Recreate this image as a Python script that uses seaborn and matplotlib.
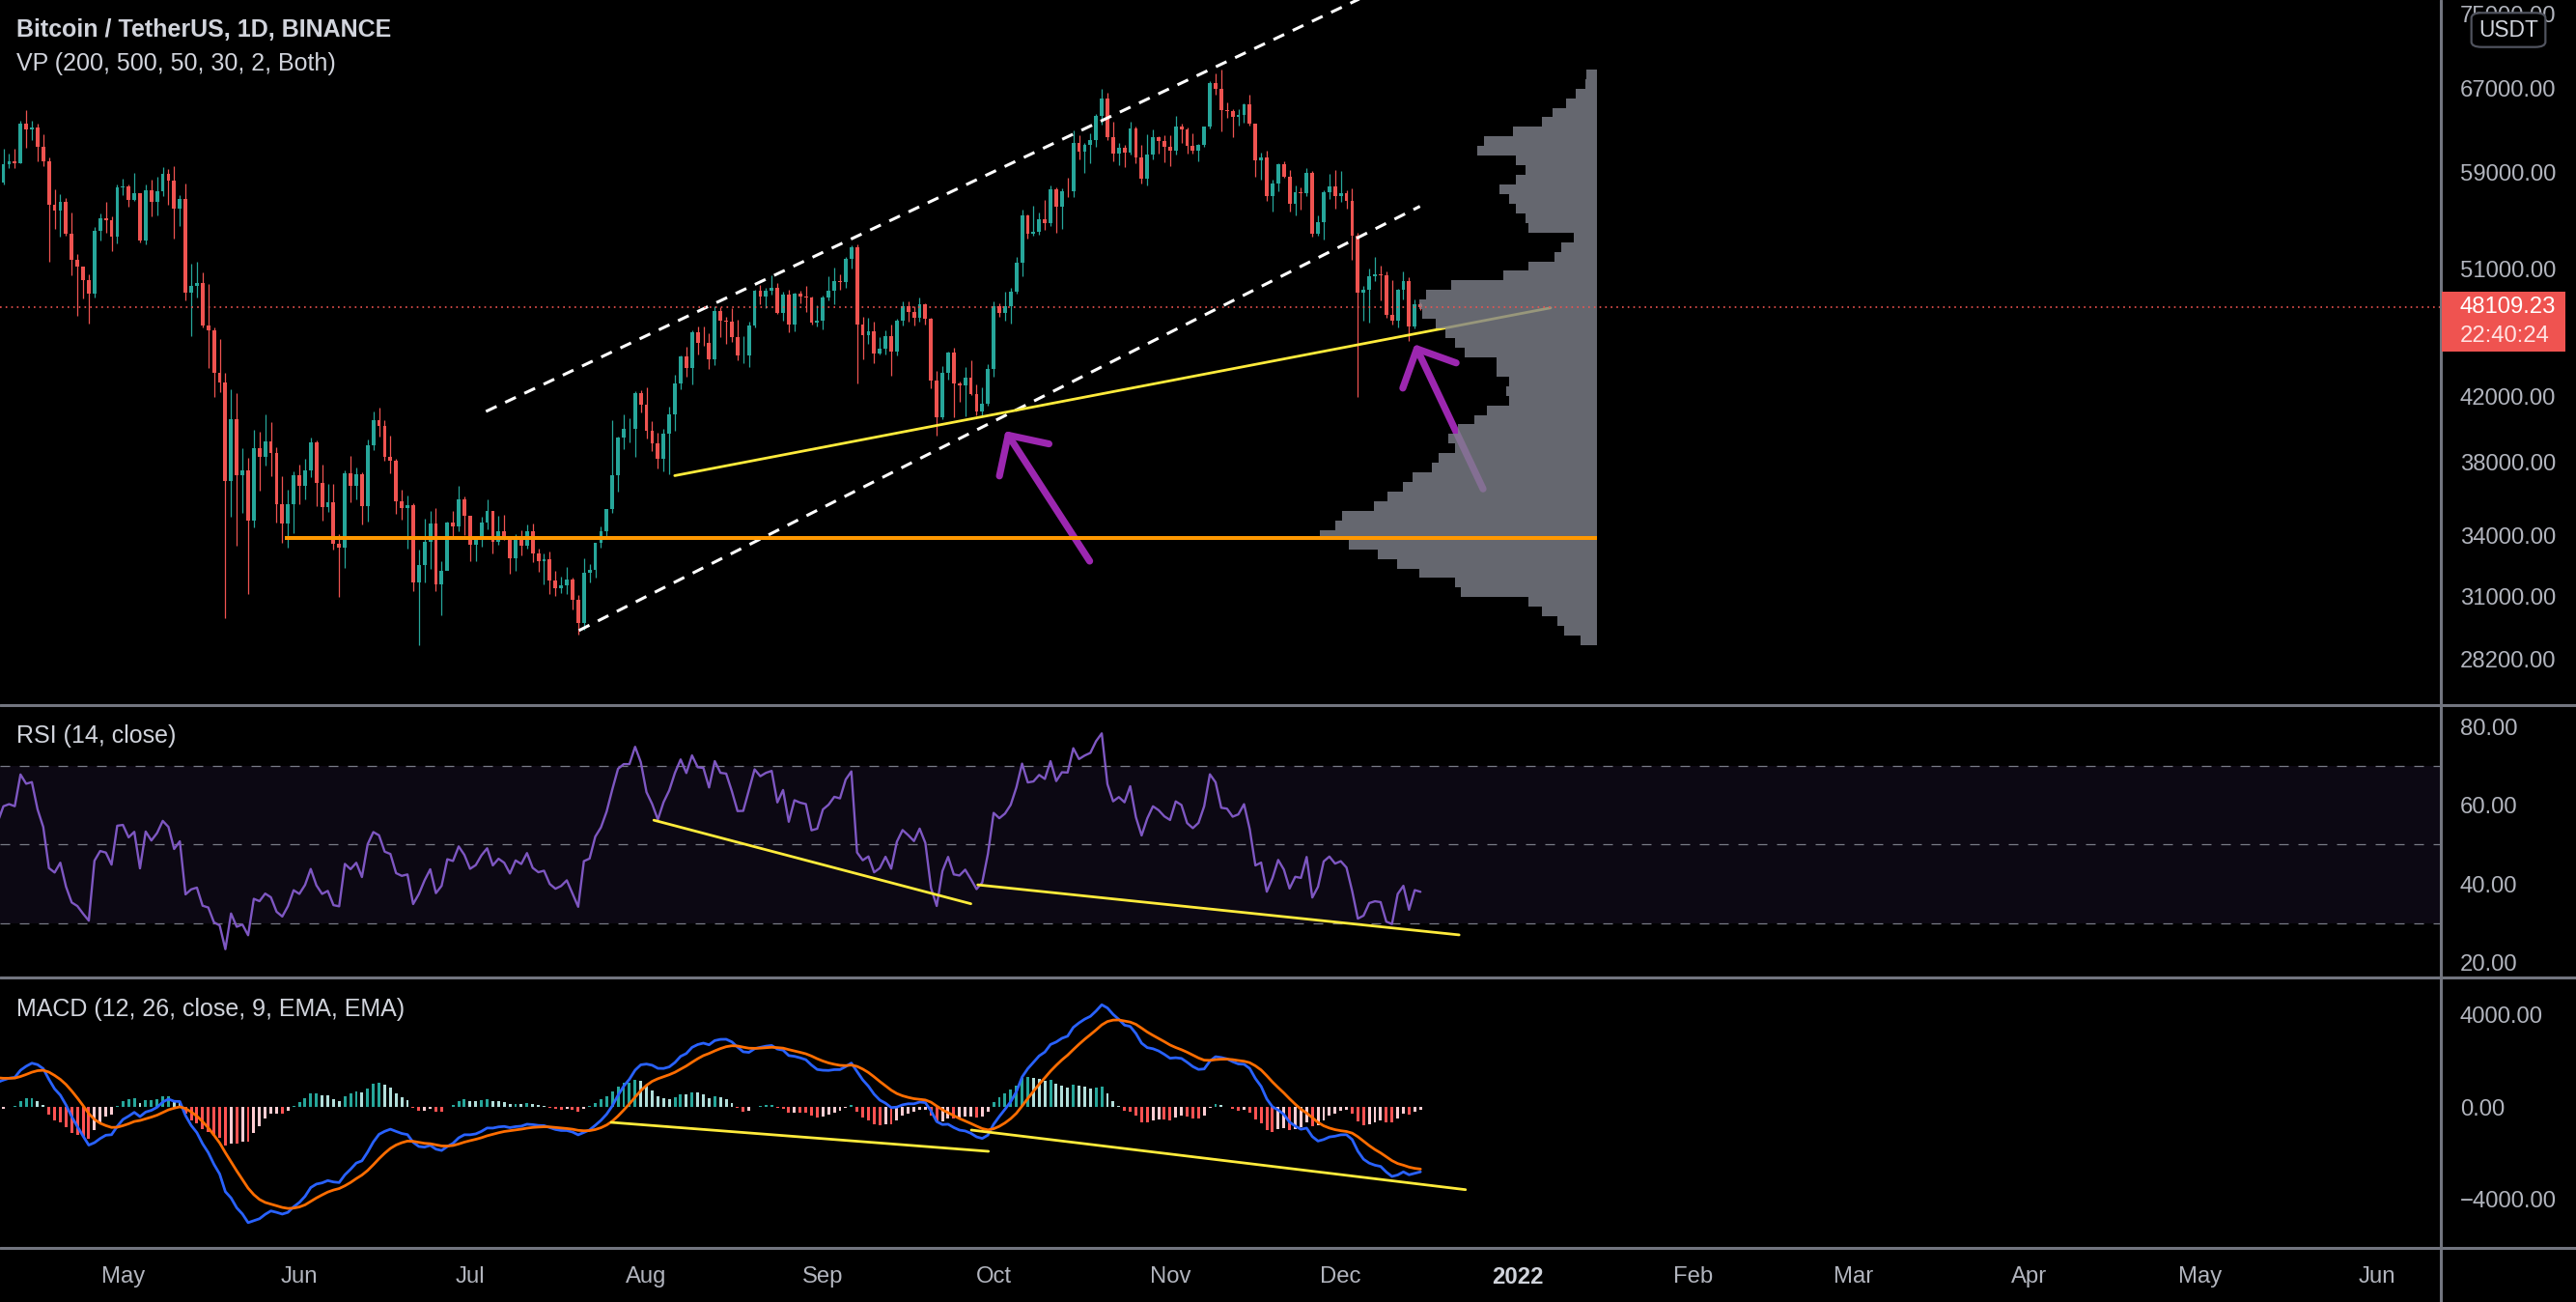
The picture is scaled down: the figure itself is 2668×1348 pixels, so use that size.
import numpy as np
import pandas as pd
import matplotlib
matplotlib.use('Agg')
import matplotlib.pyplot as plt
import matplotlib.dates as mdates
from matplotlib.lines import Line2D
from matplotlib.patches import Rectangle, FancyBboxPatch
from matplotlib.ticker import NullLocator
import seaborn as sns

sns.set_theme(style="dark", rc={"axes.facecolor": "black", "figure.facecolor": "black"})
plt.rcParams['font.family'] = ['Liberation Sans', 'DejaVu Sans']

W, H, DPI = 2668, 1348, 200

# daily closes Feb 1 - Mar 31 2021, only used to warm up RSI / MACD (off screen)
warmup_close = [
    33500, 35480, 37620, 36900, 38290, 39260, 38880, 46400, 46500, 44840, 47970, 47400, 47190, 48600,
    47930, 49150, 52120, 51550, 55900, 55840, 57410, 54090, 48900, 49680, 47070, 46280, 46100, 45140,
    49600, 48440, 50350, 48370, 48750, 48880, 51000, 52390, 54880, 55850, 57800, 57230, 61190, 59000,
    55600, 56900, 58910, 57650, 58030, 58100, 57350, 54080, 54340, 52300, 51300, 55050, 55880, 55780,
    57630, 58760, 58800,
]

# BTCUSDT 1D candles, Apr 1 - Dec 15 2021 (open = previous close)
first_day = '2021-04-01'
close = [
    # Apr
    58730, 58970, 57060, 58200, 59130, 57990, 56000, 58090, 58130, 59770, 60000, 59860, 63580, 62960, 63160,
    61330, 60000, 56150, 55660, 56470, 53800, 51700, 51190, 50100, 49070, 54030, 55030, 54860, 53560, 57700,
    # May
    57800, 56580, 57170, 53200, 57440, 56390, 57310, 58860, 58240, 55840, 56700, 49150, 49700, 49880, 46760,
    46430, 43540, 42900, 36970, 40590, 37300, 37540, 34770, 38850, 38350, 39220, 38530, 35660, 34650, 35680, 37300,
    # Jun
    36690, 37570, 39190, 36850, 35520, 35800, 33590, 33400, 37390, 36700, 37340, 35550, 39020, 40520, 40170,
    38350, 38090, 35820, 35480, 35600, 31680, 32510, 33680, 34660, 31600, 32230, 34700, 34500, 35910, 35040,
    # Jul
    33540, 33860, 34690, 35290, 33690, 34220, 33860, 32880, 33810, 33510, 34260, 33090, 32730, 32820, 31780,
    31390, 31530, 31800, 30840, 29790, 32140, 32290, 33640, 34260, 35400, 37280, 39460, 40020, 40020, 42210, 41460,
    # Aug
    39850, 39150, 38200, 39720, 40870, 42830, 44610, 43830, 46290, 45590, 45550, 44420, 47830, 47100, 47050,
    45990, 44690, 44710, 46760, 49320, 48900, 49320, 49550, 47710, 48990, 46850, 49070, 48900, 48810, 46990, 47130,
    # Sep
    48830, 49280, 50030, 49940, 51790, 52700, 46860, 46080, 46400, 44850, 45170, 46030, 44960, 47110, 48150,
    47750, 47300, 48310, 47260, 43010, 40700, 43560, 44890, 42850, 42720, 43210, 42170, 41030, 41520, 43820,
    # Oct
    48140, 47660, 48200, 49220, 51470, 55320, 53790, 53950, 54950, 54660, 57480, 56000, 57370, 57350, 61670,
    60880, 61530, 62010, 64280, 66000, 62210, 60690, 61290, 60850, 63080, 60330, 58460, 60590, 62250, 61880, 61320,
    # Nov
    61000, 63230, 62940, 61440, 61010, 61530, 63270, 67550, 66940, 64880, 64810, 64160, 64400, 65470, 63560,
    60090, 60340, 56890, 58050, 59710, 58620, 56250, 57270, 57140, 58960, 53730, 54720, 57270, 57790, 56950,
    # Dec
    57180, 56480, 53600, 49150, 49400, 50440, 50590, 50470, 47540, 47140, 49390, 50050, 46700, 48340, 48109.23,
]
high = [
    59490, 60040, 59800, 58490, 59250, 59500, 58650, 58150, 58870, 61200, 60690, 61200, 63780, 64850, 63800,
    63520, 62500, 60400, 57500, 57100, 56750, 55500, 52130, 51170, 50580, 54350, 55450, 56430, 55200, 57960,
    58450, 57950, 58970, 57200, 57950, 58360, 58650, 59500, 59300, 59600, 57000, 58000, 51370, 51560, 50700,
    49800, 46650, 45800, 43550, 42450, 42200, 38830, 38270, 39920, 39800, 40850, 40420, 38880, 37240, 36490, 37500,
    37900, 38230, 39480, 39290, 37900, 36800, 36800, 34070, 37530, 38400, 37690, 37450, 39380, 41060, 41330,
    40530, 39560, 38200, 36460, 36140, 35750, 33300, 34880, 35300, 35480, 32700, 34750, 35300, 36670, 36100,
    35050, 33950, 35000, 35950, 35300, 35050, 35100, 33920, 34100, 34270, 34600, 34660, 33340, 33100, 33190,
    32250, 31950, 32440, 31900, 31060, 32860, 32580, 33650, 34480, 35400, 40550, 39540, 40900, 40640, 42320, 42410,
    42600, 40460, 39780, 39970, 41350, 43390, 44730, 45310, 46450, 46740, 46740, 46220, 48140, 48130, 47370,
    48050, 47160, 46000, 47030, 49380, 49760, 49500, 50500, 49880, 49250, 49350, 49170, 49310, 49640, 48910, 48250,
    48950, 50400, 51060, 50560, 51900, 52800, 52920, 47380, 47350, 47030, 45990, 46460, 46880, 47260, 48490,
    48500, 48160, 48830, 48370, 47330, 43640, 44000, 44980, 45200, 42970, 43940, 44350, 42790, 42600, 44130,
    48500, 48360, 49230, 49500, 51890, 55750, 55330, 56100, 55490, 56560, 57840, 57680, 57600, 58500, 62930,
    62400, 61720, 62650, 64490, 67000, 66640, 63730, 61750, 61490, 63710, 63290, 61500, 62500, 62980, 62360, 62400,
    62430, 64270, 63520, 63130, 62600, 61580, 63290, 67790, 68530, 69000, 65600, 65000, 65000, 65550, 66400,
    63550, 60800, 60950, 58350, 59850, 60000, 59250, 57850, 57720, 59400, 59180, 55300, 57440, 58860, 59250,
    59100, 57450, 57600, 53880, 49700, 51000, 51940, 51200, 50800, 50100, 49490, 50800, 50300, 48650, 48480,
]
low = [
    57930, 58500, 56960, 56480, 56800, 57700, 55450, 55700, 57640, 57900, 59370, 59400, 59860, 61300, 62020,
    60000, 59600, 51500, 54200, 53500, 53600, 50500, 47500, 48750, 46930, 48810, 53220, 53880, 52330, 53010,
    57050, 56040, 56480, 53050, 52900, 55200, 55250, 56900, 56200, 53400, 54400, 48600, 46000, 48800, 46660,
    43830, 42000, 42250, 30000, 35000, 33500, 35200, 31110, 34440, 36400, 37800, 37200, 34680, 33630, 33380, 34150,
    35670, 35920, 37170, 35570, 34800, 35240, 33300, 31000, 32400, 35780, 35930, 34600, 34760, 38730, 39510,
    38120, 37400, 35130, 34820, 33340, 31250, 28800, 31700, 32350, 31280, 30150, 32300, 33860, 34230, 34020,
    32710, 32700, 33430, 34330, 33120, 33540, 33770, 32080, 32250, 33000, 33330, 32660, 32200, 31570, 31140,
    31030, 31160, 31110, 30410, 29280, 29480, 31700, 31920, 33400, 33880, 35200, 36380, 38770, 39200, 38310, 41000,
    39420, 38690, 37640, 37510, 37330, 39850, 42450, 43260, 42780, 44780, 45350, 43770, 44020, 45970, 45520,
    45660, 44380, 44200, 43950, 46650, 48280, 48000, 49020, 47600, 47150, 46330, 46360, 48370, 47780, 46860, 46700,
    46510, 48600, 48340, 49400, 49500, 50970, 42840, 44410, 45500, 44160, 44740, 44740, 43370, 44720, 46750,
    47020, 46760, 47050, 46830, 42500, 39600, 40570, 43080, 40680, 41650, 40750, 42100, 40830, 40750, 41410,
    43280, 47430, 47120, 46900, 49070, 50380, 53360, 53610, 53660, 54100, 54420, 53880, 54200, 56820, 56850,
    60150, 58960, 59860, 61320, 63480, 62000, 60000, 59670, 59510, 60650, 59820, 58000, 57820, 60170, 60730, 59950,
    59550, 60620, 61700, 60680, 60730, 60000, 61380, 63100, 66380, 62820, 64100, 62280, 63400, 63600, 63400,
    58600, 58370, 56500, 55600, 57360, 58500, 55610, 55300, 55800, 56930, 53500, 53610, 53330, 56660, 55880,
    56460, 55840, 51680, 42000, 47100, 47000, 50040, 48620, 47320, 46850, 46640, 48650, 45670, 46550, 47900,
]

price_ticks = [28200, 31000, 34000, 38000, 42000, 51000, 59000, 67000, 75000]
rsi_ticks = [20, 40, 60, 80]
macd_ticks = [-4000, 0, 4000]
month_ticks = ['2021-05-01', '2021-06-01', '2021-07-01', '2021-08-01', '2021-09-01', '2021-10-01', '2021-11-01',
               '2021-12-01', '2022-01-01', '2022-02-01', '2022-03-01', '2022-04-01', '2022-05-01', '2022-06-01']
month_labels = ['May', 'Jun', 'Jul', 'Aug', 'Sep', 'Oct', 'Nov', 'Dec', '2022', 'Feb', 'Mar', 'Apr', 'May', 'Jun']

# volume profile rows, top (69000) to bottom (28800)
vp_volume = [11, 12, 22, 32, 46, 57, 87, 117, 124, 84, 74, 84, 101, 91, 84, 74, 71, 24, 37, 44,
             71, 97, 151, 177, 184, 181, 167, 157, 147, 137, 104, 104, 91, 94, 91, 114, 127, 144, 154, 147,
             164, 171, 191, 201, 217, 231, 264, 271, 287, 257, 227, 207, 184, 147, 141, 71, 57, 41, 34, 17]

# drawings
support_level = ('2021-05-29 10:00', 33900)
channel_upper = [('2021-07-03 19:00', 41060), ('2021-12-11 07:00', 79000)]
channel_lower = [('2021-07-20 03:00', 29450), ('2021-12-14 22:00', 56050)]
price_trend = [('2021-08-05 23:00', 37250), ('2022-01-06 21:00', 48050)]
arrows = [(('2021-10-17 21:00', 32720), ('2021-10-03 02:00', 39860)),
          (('2021-12-26 00:00', 36510), ('2021-12-14 00:00', 45460))]
rsi_trends = [[('2021-08-02 07:00', 56.2), ('2021-09-27 00:00', 35.0)],
              [('2021-09-28 05:00', 39.8), ('2021-12-21 19:00', 27.1)]]
macd_trends = [[('2021-07-25 19:00', -674), ('2021-09-30 02:00', -1937)],
               [('2021-09-27 02:00', -1010), ('2021-12-22 22:00', -3608)]]


def dnum(s):
    return mdates.date2num(pd.Timestamp(s))


def fx(px):
    return px / W


def fy(py):
    return 1 - py / H


dates = pd.date_range(first_day, periods=len(close), freq='D')
x = mdates.date2num(dates)
c = np.array(close, dtype=float)
o = np.array([warmup_close[-1]] + close[:-1], dtype=float)
hi = np.array(high, dtype=float)
lo = np.array(low, dtype=float)

# indicators over the whole history
allc = pd.Series(warmup_close + close, dtype=float)
delta = allc.diff()
gain = delta.clip(lower=0).ewm(alpha=1 / 14, adjust=False).mean()
loss = (-delta.clip(upper=0)).ewm(alpha=1 / 14, adjust=False).mean()
rsi_all = 100 - 100 / (1 + gain / loss)
macd_all = allc.ewm(span=12, adjust=False).mean() - allc.ewm(span=26, adjust=False).mean()
signal_all = macd_all.ewm(span=9, adjust=False).mean()
hist_all = macd_all - signal_all
nw = len(warmup_close)
rsi = rsi_all.values[nw:]
macd = macd_all.values[nw:]
signal = signal_all.values[nw:]
hist = hist_all.values[nw:]
hist_prev = hist_all.shift(1).values[nw:]
hist_col = np.where(hist >= 0,
                    np.where(hist > hist_prev, '#26A69A', '#B2DFDB'),
                    np.where(hist < hist_prev, '#FF5252', '#FFCDD2'))

base = dnum('2021-05-01')
xlim = (base - 21.6, base + 407.3)
tick_col = '#B2B5BE'
fs = 8.6

fig = plt.figure(figsize=(W / DPI, H / DPI), dpi=DPI, facecolor='black')
ax_p = fig.add_axes([0, fy(730), fx(2528), 730 / H])
ax_r = fig.add_axes([0, fy(1012), fx(2528), 282 / H])
ax_m = fig.add_axes([0, fy(1292), fx(2528), 280 / H])

for ax in (ax_p, ax_r, ax_m):
    ax.set_facecolor('black')
    for s in ax.spines.values():
        s.set_visible(False)
    ax.grid(False)
    ax.set_xlim(*xlim)
    ax.yaxis.tick_right()
    ax.tick_params(axis='y', length=0, pad=7.2, labelsize=fs, labelcolor=tick_col)
    ax.tick_params(axis='x', length=0)

# ---- price pane
ax_p.set_yscale('log')
ax_p.set_ylim(26300, 76650)
ax_p.yaxis.set_minor_locator(NullLocator())
ax_p.set_yticks(price_ticks)
ax_p.set_yticklabels([f'{v:.2f}' for v in price_ticks])
ax_p.set_xticks([])

up = c >= o
ccol = np.where(up, '#26A69A', '#EF5350')
ax_p.vlines(x, lo, hi, colors=ccol, lw=0.45, zorder=2)
ax_p.bar(x, np.abs(c - o), bottom=np.minimum(o, c), width=0.65, color=ccol, lw=0, zorder=2)

# channel + trend line
for pts in (channel_upper, channel_lower):
    ax_p.plot([dnum(p[0]) for p in pts], [p[1] for p in pts], color='white', lw=1.1,
              dashes=(4, 3.2), zorder=3)
ax_p.plot([dnum(p[0]) for p in price_trend], [p[1] for p in price_trend], color='#FFEB3B', lw=1.0, zorder=3)

for tail, tip in arrows:
    ax_p.annotate('', xy=(dnum(tip[0]), tip[1]), xytext=(dnum(tail[0]), tail[1]),
                  arrowprops=dict(arrowstyle='->,head_length=0.55,head_width=0.55', mutation_scale=20,
                                  lw=2.6, color='#9C27B0', shrinkA=0, shrinkB=0),
                  zorder=3)

# volume profile (visible range)
vis = x >= xlim[0]
edges = np.geomspace(hi[vis].max(), lo[vis].min(), len(vp_volume) + 1)
vp_right = base + 259.0
vp_w = np.array(vp_volume, dtype=float) / max(vp_volume) * 48.7
ax_p.barh(edges[1:], -vp_w, left=vp_right, height=edges[:-1] - edges[1:], align='edge',
          color='#7f828c', alpha=0.8, lw=0, zorder=4)

ax_p.hlines(support_level[1], dnum(support_level[0]), vp_right, color='#FF9800', lw=1.45, zorder=6)
ax_p.axhline(c[-1], color='#EF5350', lw=0.6, dashes=(1, 2.5), zorder=6)

# ---- RSI pane
ax_r.set_ylim(16.3, 85.4)
ax_r.axhspan(30, 70, color='#7E57C2', alpha=0.1, lw=0)
for lvl in (70, 50, 30):
    ax_r.axhline(lvl, color='#787B86', lw=0.45, dashes=(8, 8))
sns.lineplot(x=x, y=rsi, ax=ax_r, color='#7E57C2', lw=0.85, legend=False)
for seg in rsi_trends:
    ax_r.plot([dnum(p[0]) for p in seg], [p[1] for p in seg], color='#FFEB3B', lw=1.0)
ax_r.set_yticks(rsi_ticks)
ax_r.set_yticklabels([f'{v:.2f}' for v in rsi_ticks])
ax_r.set_xticks([])

# ---- MACD pane
ax_m.set_ylim(-6147, 5642)
ax_m.bar(x, hist, width=0.5, color=hist_col, lw=0, zorder=2)
sns.lineplot(x=x, y=macd, ax=ax_m, color='#2962FF', lw=1.0, legend=False, zorder=3)
sns.lineplot(x=x, y=signal, ax=ax_m, color='#FF6D00', lw=1.0, legend=False, zorder=3)
for seg in macd_trends:
    ax_m.plot([dnum(p[0]) for p in seg], [p[1] for p in seg], color='#FFEB3B', lw=1.0, zorder=4)
ax_m.set_yticks(macd_ticks)
ax_m.set_yticklabels([f'{v:.2f}'.replace('-', '\u2212') for v in macd_ticks])
ax_m.set_xticks([dnum(t) for t in month_ticks])
ax_m.set_xticklabels(month_labels)
ax_m.tick_params(axis='x', pad=7, labelsize=fs, labelcolor=tick_col)
for t in ax_m.get_xticklabels():
    if t.get_text() == '2022':
        t.set_fontweight('bold')
        t.set_color('#D1D4DC')

for ax in (ax_p, ax_r, ax_m):
    ax.set_xlabel('')
    ax.set_ylabel('')
    ax.set_xlim(*xlim)

# ---- pane separators
sep = '#72757f'
for py in (730, 1012, 1292):
    fig.add_artist(Line2D([0, 1], [fy(py), fy(py)], transform=fig.transFigure, color=sep, lw=1.1))
fig.add_artist(Line2D([fx(2528), fx(2528)], [0, 1], transform=fig.transFigure, color=sep, lw=1.1))

# ---- legends / labels
txt = '#D1D4DC'
fig.text(fx(17), fy(31), 'Bitcoin / TetherUS, 1D, BINANCE', color=txt, fontsize=9, fontweight='bold', va='center')
fig.text(fx(17), fy(66), 'VP (200, 500, 50, 30, 2, Both)', color=txt, fontsize=9, va='center')
fig.text(fx(17), fy(762), 'RSI (14, close)', color=txt, fontsize=9, va='center')
fig.text(fx(17), fy(1045), 'MACD (12, 26, close, 9, EMA, EMA)', color=txt, fontsize=9, va='center')

# last price tag
fig.patches.append(Rectangle((fx(2529), fy(364)), fx(128), 62 / H, transform=fig.transFigure,
                             facecolor='#EF5350', edgecolor='none', zorder=5))
fig.text(fx(2548), fy(318), f'{c[-1]:.2f}', color='white', fontsize=fs, va='center', zorder=6)
fig.text(fx(2548), fy(348), '22:40:24', color='#FFE3E3', fontsize=fs, va='center', zorder=6)

# currency badge
fig.patches.append(FancyBboxPatch((fx(2565), fy(46)), fx(66), 30 / H, boxstyle='round,pad=0.002,rounding_size=0.004',
                                  transform=fig.transFigure, facecolor='black', edgecolor='#50535E',
                                  lw=0.8, zorder=5))
fig.text(fx(2598), fy(31), 'USDT', color=txt, fontsize=8.2, ha='center', va='center', zorder=6)

fig.savefig('out.png', dpi=DPI, facecolor='black')
